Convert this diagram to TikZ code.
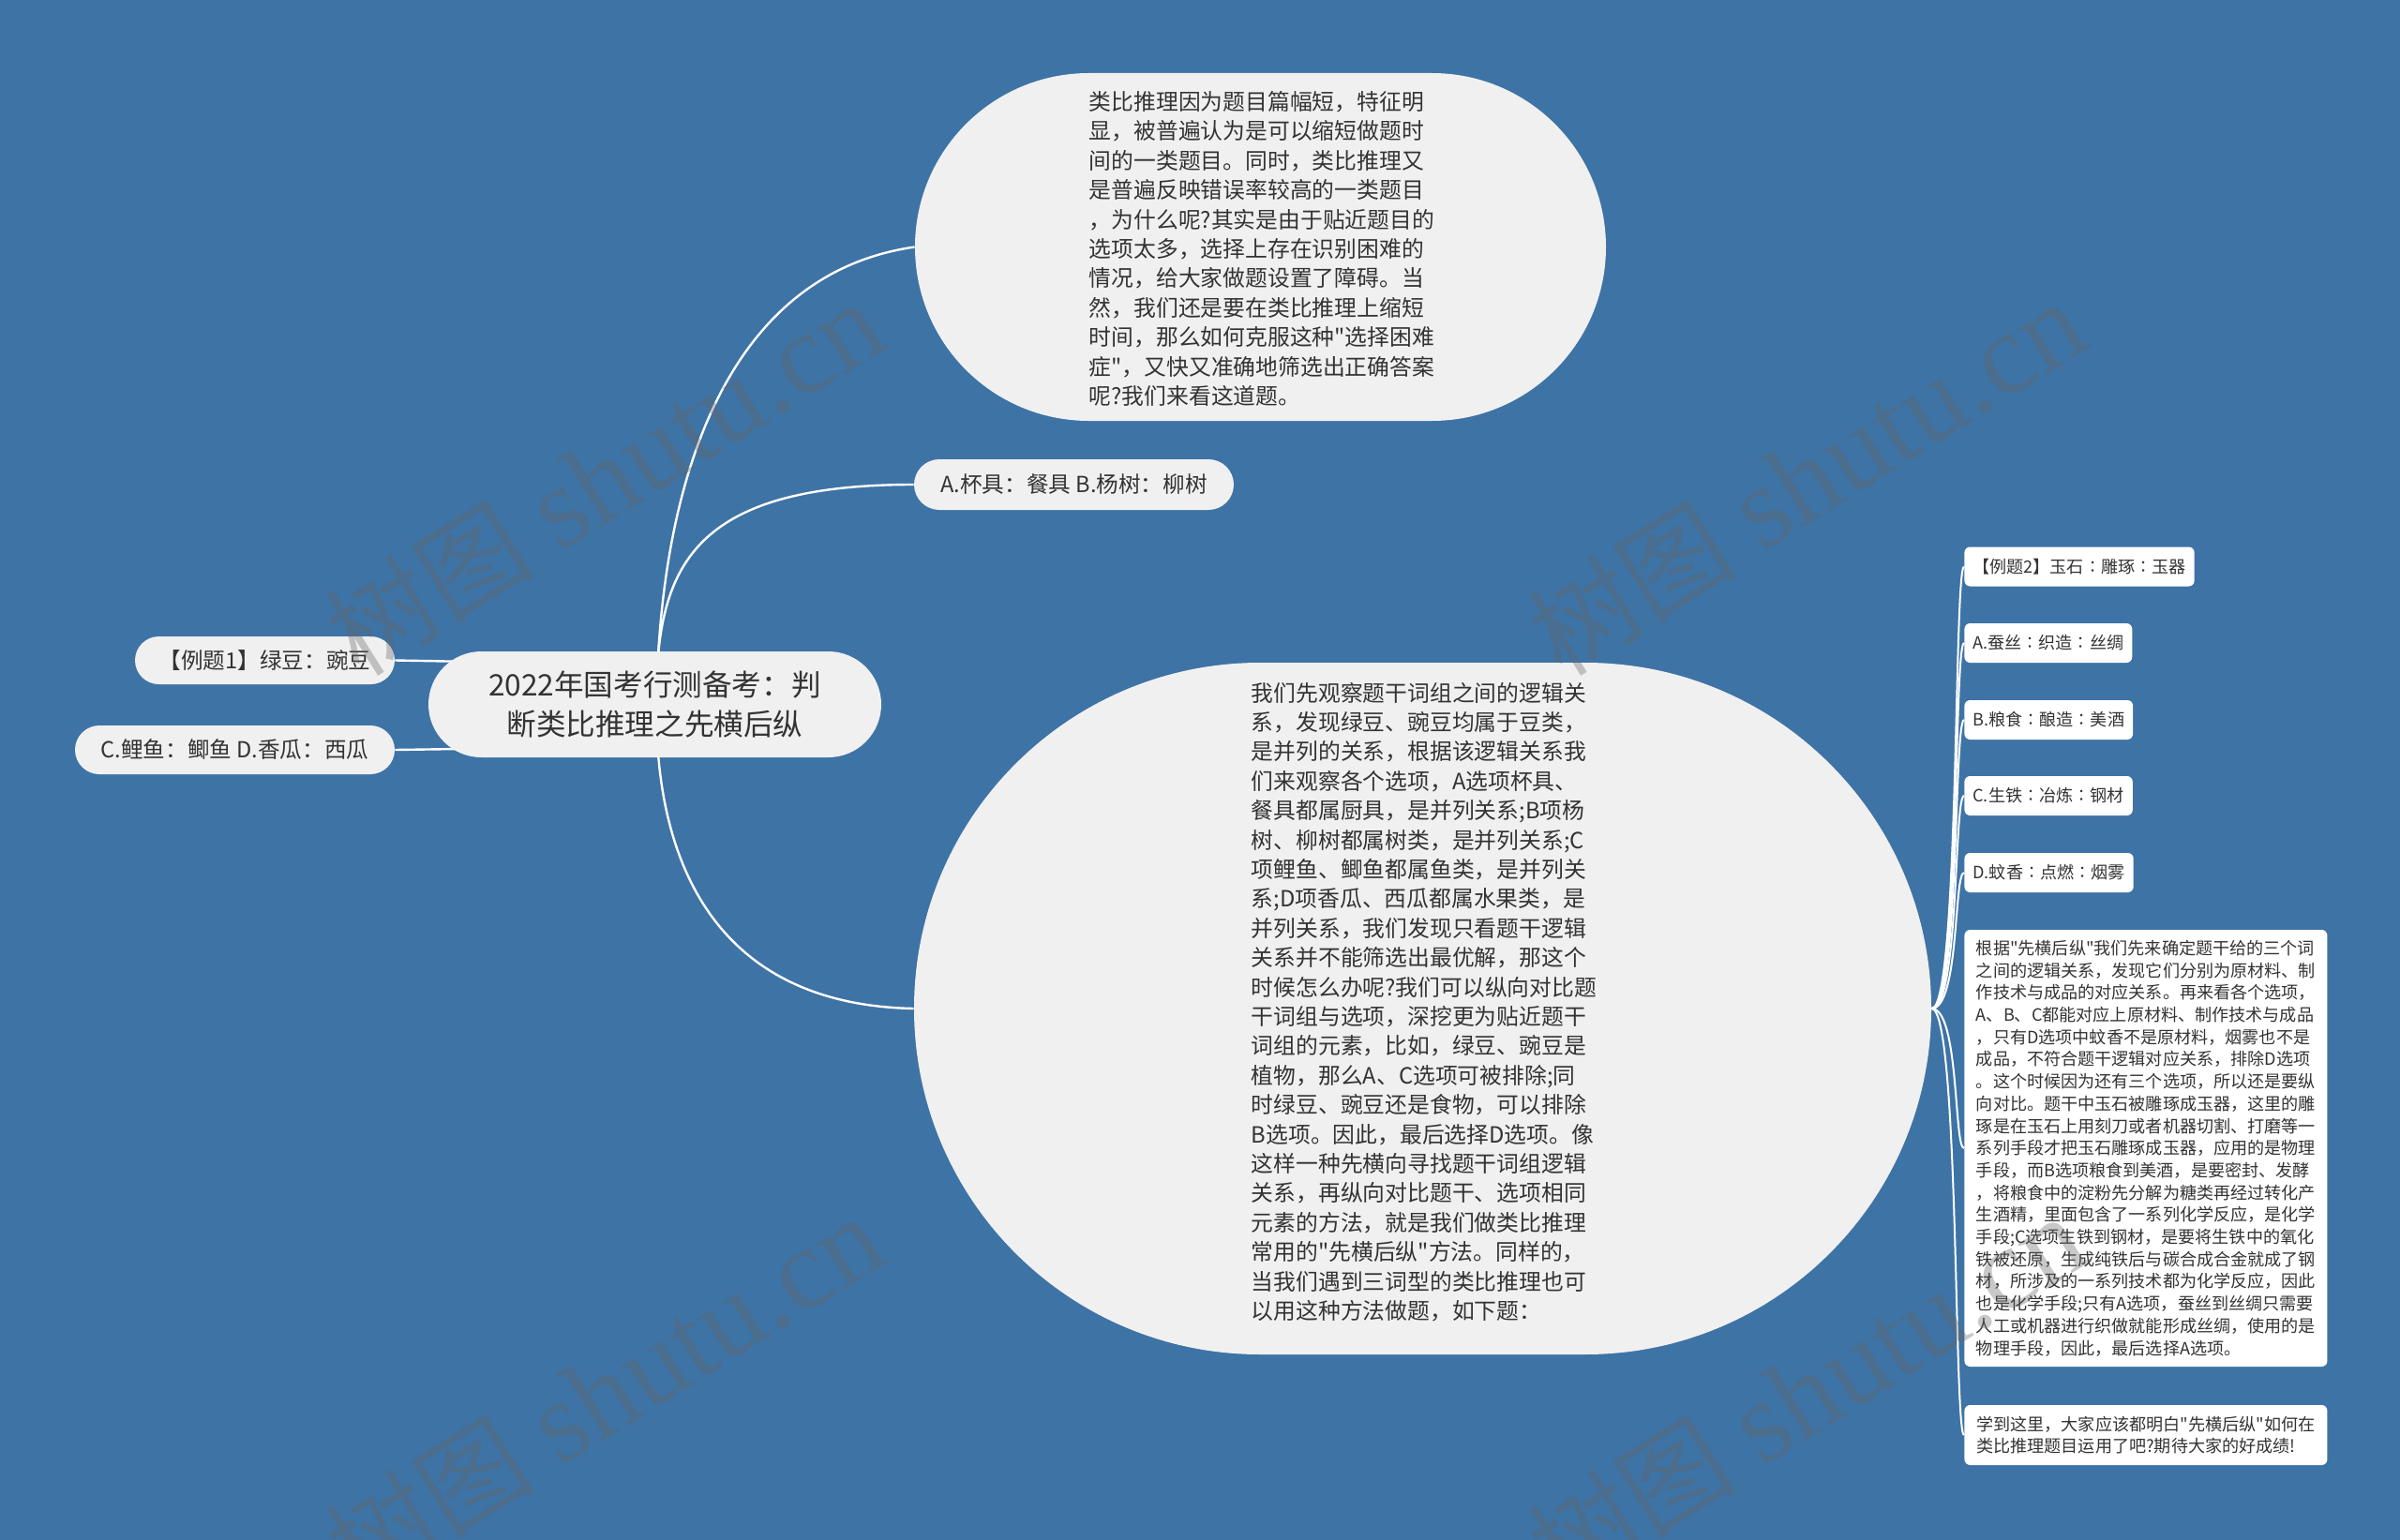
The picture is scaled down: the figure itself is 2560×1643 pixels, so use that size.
\documentclass[tikz,border=0pt]{standalone}
\usepackage{fontspec}
\setmainfont{Noto Sans CJK SC}[Ligatures=TeXOff]
\newfontfamily\cjk{Noto Sans CJK SC}[Ligatures=TeXOff]
\newfontfamily\wmfont{Liberation Serif}
\usetikzlibrary{shapes.misc}
\definecolor{bgblue}{RGB}{62,115,165}
\definecolor{nodegray}{RGB}{240,240,240}
\definecolor{txt}{RGB}{51,51,51}
\definecolor{wmgray}{RGB}{100,100,100}
\pgfdeclarelayer{bgl}
\pgfdeclarelayer{lines}
\pgfdeclarelayer{wml}
\pgfsetlayers{bgl,lines,main,wml}
\begin{document}
\begin{tikzpicture}[x=0.5pt,y=-0.5pt,
 stad/.style={rounded rectangle, fill=nodegray, text=txt, inner sep=0pt, align=center},
 midfont/.style={font=\fontsize{11.8pt}{15.75pt}\selectfont},
 bigtext/.style={text=txt, align=left, inner sep=0pt, font=\fontsize{11.9pt}{15.7pt}\selectfont},
 rbox/.style={rectangle, rounded corners=3pt, fill=white, text=txt, anchor=west, inner xsep=4.5pt, inner ysep=2pt, minimum height=21pt, align=left, font=\fontsize{9.05pt}{11.85pt}\selectfont},
 conn/.style={draw=white, line width=1.2pt},
 rconn/.style={draw=white, line width=1pt},
 wm/.style={text=wmgray, text opacity=0.35, rotate=32, inner sep=0pt}
]
\begin{pgfonlayer}{bgl}
\fill[bgblue] (0,0) rectangle (2560,1643);
\end{pgfonlayer}
\useasboundingbox (0,0) rectangle (2560,1643);

% central
\node[stad, minimum width=241.5pt, minimum height=56.5pt, font=\fontsize{15.8pt}{21.25pt}\selectfont] (central) at (698.5,751.5) {2022年国考行测备考：判\\断类比推理之先横后纵};

% left
\node[stad, midfont, minimum width=138.5pt, minimum height=25.5pt] (ex1) at (282.5,704.5) {【例题1】绿豆：豌豆};
\node[stad, midfont, minimum width=170.5pt, minimum height=26pt] (cd) at (250.5,800) {C.鲤鱼：鲫鱼 D.香瓜：西瓜};

% right of central
\node[stad, minimum width=368.5pt, minimum height=185.5pt] (topn) at (1344.5,263.5) {};
\node[bigtext] (topt) at (1346,265.5) {类比推理因为题目篇幅短，特征明\\%
显，被普遍认为是可以缩短做题时\\%
间的一类题目。同时，类比推理又\\%
是普遍反映错误率较高的一类题目\\%
，为什么呢?其实是由于贴近题目的\\%
选项太多，选择上存在识别困难的\\%
情况，给大家做题设置了障碍。当\\%
然，我们还是要在类比推理上缩短\\%
时间，那么如何克服这种"选择困难\\%
症"，又快又准确地筛选出正确答案\\%
呢?我们来看这道题。};

\node[stad, midfont, minimum width=170.5pt, minimum height=27pt] (ab) at (1145.5,517) {A.杯具：餐具 B.杨树：柳树};

\node[stad, minimum width=542.5pt, minimum height=369pt] (big) at (1517.5,1076) {};
\node[bigtext] (bigt) at (1519,1069) {我们先观察题干词组之间的逻辑关\\%
系，发现绿豆、豌豆均属于豆类，\\%
是并列的关系，根据该逻辑关系我\\%
们来观察各个选项，A选项杯具、\\%
餐具都属厨具，是并列关系;B项杨\\%
树、柳树都属树类，是并列关系;C\\%
项鲤鱼、鲫鱼都属鱼类，是并列关\\%
系;D项香瓜、西瓜都属水果类，是\\%
并列关系，我们发现只看题干逻辑\\%
关系并不能筛选出最优解，那这个\\%
时候怎么办呢?我们可以纵向对比题\\%
干词组与选项，深挖更为贴近题干\\%
词组的元素，比如，绿豆、豌豆是\\%
植物，那么A、C选项可被排除;同\\%
时绿豆、豌豆还是食物，可以排除\\%
B选项。因此，最后选择D选项。像\\%
这样一种先横向寻找题干词组逻辑\\%
关系，再纵向对比题干、选项相同\\%
元素的方法，就是我们做类比推理\\%
常用的"先横后纵"方法。同样的，\\%
当我们遇到三词型的类比推理也可\\%
以用这种方法做题，如下题：};

% right boxes
\node[rbox] (r0) at (2095,604.5) {【例题2】玉石∶雕琢∶玉器};
\node[rbox] (r1) at (2095,686) {A.蚕丝∶织造∶丝绸};
\node[rbox] (r2) at (2095,768) {B.粮食∶酿造∶美酒};
\node[rbox] (r3) at (2095,849) {C.生铁∶冶炼∶钢材};
\node[rbox] (r4) at (2095,931) {D.蚊香∶点燃∶烟雾};
\node[rbox, minimum width=193.5pt, minimum height=233pt] (r5) at (2095,1225) {根据"先横后纵"我们先来确定题干给的三个词\\%
之间的逻辑关系，发现它们分别为原材料、制\\%
作技术与成品的对应关系。再来看各个选项，\\%
A、B、C都能对应上原材料、制作技术与成品\\%
，只有D选项中蚊香不是原材料，烟雾也不是\\%
成品，不符合题干逻辑对应关系，排除D选项\\%
。这个时候因为还有三个选项，所以还是要纵\\%
向对比。题干中玉石被雕琢成玉器，这里的雕\\%
琢是在玉石上用刻刀或者机器切割、打磨等一\\%
系列手段才把玉石雕琢成玉器，应用的是物理\\%
手段，而B选项粮食到美酒，是要密封、发酵\\%
，将粮食中的淀粉先分解为糖类再经过转化产\\%
生酒精，里面包含了一系列化学反应，是化学\\%
手段;C选项生铁到钢材，是要将生铁中的氧化\\%
铁被还原，生成纯铁后与碳合成合金就成了钢\\%
材，所涉及的一系列技术都为化学反应，因此\\%
也是化学手段;只有A选项，蚕丝到丝绸只需要\\%
人工或机器进行织做就能形成丝绸，使用的是\\%
物理手段，因此，最后选择A选项。};
\node[rbox, minimum width=193.5pt, minimum height=32pt] (r6) at (2095,1531) {学到这里，大家应该都明白"先横后纵"如何在\\%
类比推理题目运用了吧?期待大家的好成绩!};

% connectors
\coordinate (ct) at (702,699);
\coordinate (cb) at (702,804);
\coordinate (cl1) at (560,707);
\coordinate (cl2) at (560,798);
\begin{pgfonlayer}{lines}
\draw[conn] (ct) .. controls (715,480) and (790,290) .. (topn.west);
\draw[conn] (ct) .. controls (712,590) and (760,517) .. (ab.west);
\draw[conn] (cb) .. controls (712,930) and (770,1072) .. (big.west);
\draw[conn] (ex1.east) -- (cl1);
\draw[conn] (cd.east) -- (cl2);
\foreach \n in {r0,r1,r2,r3,r4,r5,r6}{
  \draw[rconn] (big.east) .. controls (2090,1076) and (2084,0|-\n.west) .. (\n.west);
}
\end{pgfonlayer}

% watermarks
\begin{pgfonlayer}{wml}
\foreach \p/\q in {w1/{(645,510)}, w2/{(1927,510)}, w3/{(645,1486)}, w4/{(1927,1486)}}{
\node[wm] (\p) at \q {{\cjk\fontsize{56pt}{56pt}\selectfont 树图}\hspace{14pt}{\wmfont\fontsize{62pt}{62pt}\selectfont shutu.cn}};
}
\end{pgfonlayer}
\end{tikzpicture}
\end{document}
